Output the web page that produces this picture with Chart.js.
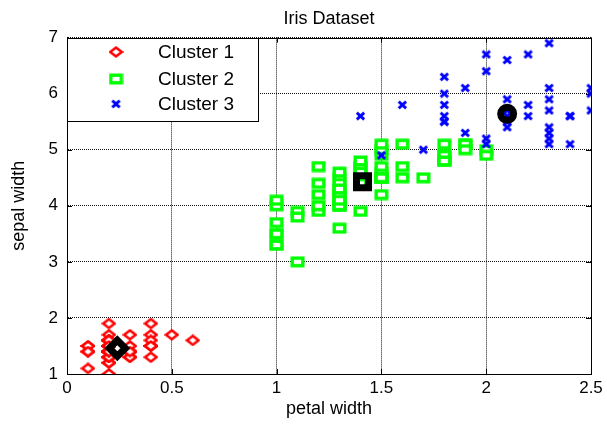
<!DOCTYPE html>
<html>
<head>
<meta charset="utf-8">
<title>Iris Dataset</title>
<script src="https://cdn.jsdelivr.net/npm/chart.js@4.4.0/dist/chart.umd.min.js"></script>
<style>
  html, body { margin: 0; padding: 0; background: #fff; }
</style>
</head>
<body>
<canvas id="iris-chart" width="607" height="429"></canvas>
<script>
// petal width (x) and length (y) per cluster
var c1Width = [0.2,0.2,0.2,0.2,0.2,0.4,0.3,0.2,0.2,0.1,
               0.2,0.2,0.1,0.1,0.2,0.4,0.4,0.3,0.3,0.3,
               0.2,0.4,0.2,0.5,0.2,0.2,0.4,0.2,0.2,0.2,
               0.2,0.4,0.1,0.2,0.2,0.2,0.2,0.1,0.2,0.2,
               0.3,0.3,0.2,0.6,0.4,0.3,0.2,0.2,0.2,0.2];
var c1Length = [1.4,1.4,1.3,1.5,1.4,1.7,1.4,1.5,1.4,1.5,
                1.5,1.6,1.4,1.1,1.2,1.5,1.3,1.4,1.7,1.5,
                1.7,1.5,1.0,1.7,1.9,1.6,1.6,1.5,1.4,1.6,
                1.6,1.5,1.5,1.4,1.5,1.2,1.3,1.4,1.3,1.5,
                1.3,1.3,1.3,1.6,1.9,1.4,1.6,1.4,1.5,1.4];

var c2Width = [1.4,1.5,1.3,1.5,1.3,1.6,1.0,1.3,1.4,1.0,
               1.5,1.0,1.4,1.3,1.4,1.5,1.0,1.5,1.1,1.8,
               1.3,1.5,1.2,1.3,1.4,1.4,1.5,1.0,1.1,1.0,
               1.2,1.6,1.5,1.6,1.5,1.3,1.3,1.3,1.2,1.4,
               1.2,1.0,1.3,1.2,1.3,1.3,1.1,1.3,
               1.9,1.7,2.0,1.5,2.0,1.8,1.8,1.8,1.5,1.8,1.9,1.9,1.8];
var c2Length = [4.7,4.5,4.0,4.6,4.5,4.7,3.3,4.6,3.9,3.5,
                4.2,4.0,4.7,3.6,4.4,4.5,4.1,4.5,3.9,4.8,
                4.0,4.9,4.7,4.3,4.4,4.8,4.5,3.5,3.8,3.7,
                3.9,5.1,4.5,4.5,4.7,4.4,4.1,4.0,4.4,4.6,
                4.0,3.3,4.2,4.2,4.2,4.3,3.0,4.1,
                5.1,4.5,5.0,5.0,4.9,4.9,4.8,4.9,5.1,4.8,5.1,5.0,5.1];

var c3Width = [1.5,1.7,
               2.5,2.1,1.8,2.2,2.1,1.8,1.8,2.5,2.0,1.9,
               2.1,2.4,2.3,1.8,2.2,2.3,2.3,2.0,2.1,1.8,
               2.1,1.6,1.9,2.0,2.2,1.4,2.3,2.4,1.8,2.1,
               2.4,2.3,2.3,2.5,2.3,2.0,2.3];
var c3Length = [4.9,5.0,
                6.0,5.9,5.6,5.8,6.6,6.3,5.8,6.1,5.1,5.3,
                5.5,5.1,5.3,5.5,6.7,6.9,5.7,6.7,5.7,6.0,
                5.6,5.8,6.1,6.4,5.6,5.6,6.1,5.6,5.5,5.4,
                5.6,5.1,5.9,5.7,5.2,5.2,5.4];

var centroidWidth = [0.24, 1.41, 2.10];
var centroidLength = [1.46, 4.43, 5.64];

var clusterNames = ["Cluster 1", "Cluster 2", "Cluster 3"];
var xTicks = [0, 0.5, 1, 1.5, 2, 2.5];
var yTicks = [1, 2, 3, 4, 5, 6, 7];

function pts(xs, ys) {
  return xs.map(function (x, i) { return {x: x, y: ys[i]}; });
}

Chart.defaults.font.family = "'Liberation Sans', Arial, sans-serif";
Chart.defaults.color = '#000';

// the original markers are a bit wider than tall, so draw them as small images
function makeMark(w, h, draw) {
  var c = document.createElement('canvas');
  c.width = w;
  c.height = h;
  draw(c.getContext('2d'), w, h);
  return c;
}

var diamondMark = makeMark(15, 12, function (g, w, h) {
  g.beginPath();
  g.moveTo(w / 2, 1.6); g.lineTo(w - 1.8, h / 2); g.lineTo(w / 2, h - 1.6); g.lineTo(1.8, h / 2);
  g.closePath();
  g.fillStyle = '#fff'; g.fill();
  g.strokeStyle = '#ff0000'; g.lineWidth = 2.5; g.stroke();
});
var squareMark = makeMark(15, 12, function (g, w, h) {
  g.fillStyle = '#fff';
  g.fillRect(2, 2, w - 4, h - 4);
  g.strokeStyle = '#00ff00'; g.lineWidth = 3.4;
  g.strokeRect(2.2, 2.2, w - 4.4, h - 4.4);
});
var crossMark = makeMark(11, 10, function (g, w, h) {
  g.beginPath();
  g.moveTo(1.8, 1.6); g.lineTo(w - 1.8, h - 1.6);
  g.moveTo(w - 1.8, 1.6); g.lineTo(1.8, h - 1.6);
  g.strokeStyle = '#0000ff'; g.lineWidth = 2.8; g.stroke();
});
var clusterMarks = [diamondMark, squareMark, crossMark];

// box, inward ticks and the legend in the top-left corner
var frame = {
  id: 'frame',
  beforeDatasetsDraw: function (chart) {
    var ctx = chart.ctx, a = chart.chartArea;
    var xs = chart.scales.x, ys = chart.scales.y;
    ctx.save();
    ctx.strokeStyle = '#000';
    ctx.lineWidth = 1;
    ctx.strokeRect(Math.round(a.left) + 0.5, Math.round(a.top) + 0.5,
                   Math.round(a.right - a.left), Math.round(a.bottom - a.top));
    ctx.beginPath();
    xTicks.forEach(function (v) {
      var px = Math.round(xs.getPixelForValue(v)) + 0.5;
      ctx.moveTo(px, a.bottom); ctx.lineTo(px, a.bottom - 5);
      ctx.moveTo(px, a.top); ctx.lineTo(px, a.top + 5);
    });
    yTicks.forEach(function (v) {
      var py = Math.round(ys.getPixelForValue(v)) + 0.5;
      ctx.moveTo(a.left, py); ctx.lineTo(a.left + 5, py);
      ctx.moveTo(a.right, py); ctx.lineTo(a.right - 5, py);
    });
    ctx.stroke();
    ctx.restore();
  },
  afterDraw: function (chart) {
    var ctx = chart.ctx, a = chart.chartArea;
    var left = Math.round(a.left) + 0.5, top = Math.round(a.top) + 0.5;
    ctx.save();
    ctx.fillStyle = '#fff';
    ctx.fillRect(left, top, 191, 83);
    ctx.strokeStyle = '#000';
    ctx.lineWidth = 1;
    ctx.strokeRect(left, top, 191, 83);
    var rows = [14, 41, 66];
    clusterNames.forEach(function (name, i) {
      var m = clusterMarks[i];
      var y = Math.round(a.top + rows[i]);
      var x = Math.round(a.left + 49);
      ctx.drawImage(m, x - m.width / 2, y - m.height / 2);
      ctx.fillStyle = '#000';
      ctx.font = "19px 'Liberation Sans', Arial, sans-serif";
      ctx.textBaseline = 'middle';
      ctx.textAlign = 'left';
      ctx.fillText(name, a.left + 91, y + 1);
    });
    ctx.restore();
  }
};

function clusterSet(i, xs, ys, order) {
  return {
    label: clusterNames[i],
    data: pts(xs, ys),
    pointStyle: clusterMarks[i],
    pointRadius: 6,
    showLine: false,
    order: order
  };
}

new Chart(document.getElementById('iris-chart'), {
  type: 'scatter',
  data: {
    datasets: [
      clusterSet(0, c1Width, c1Length, 3),
      clusterSet(1, c2Width, c2Length, 2),
      clusterSet(2, c3Width, c3Length, 1),
      {
        label: 'Centroids',
        data: pts(centroidWidth, centroidLength),
        pointStyle: ['rectRot', 'rect', 'circle'],
        pointRadius: [8, 8.5, 6.5],
        pointBorderWidth: [7, 7, 7],
        pointBackgroundColor: 'rgba(0,0,0,0)',
        pointBorderColor: '#000',
        showLine: false,
        order: 0
      }
    ]
  },
  options: {
    responsive: false,
    animation: false,
    events: [],
    layout: { padding: { left: 0, right: 16, top: 0, bottom: 0 } },
    plugins: {
      legend: { display: false },
      tooltip: { enabled: false },
      title: {
        display: true,
        text: 'Iris Dataset',
        fullSize: false,
        color: '#000',
        font: { size: 18, weight: 'normal' },
        padding: { top: 8, bottom: 8 }
      }
    },
    scales: {
      x: {
        type: 'linear',
        min: 0,
        max: 2.5,
        afterBuildTicks: function (s) { s.ticks = xTicks.map(function (v) { return {value: v}; }); },
        afterFit: function (s) { s.height = 55; s.paddingLeft = 0; s.paddingRight = 0; },
        ticks: {
          font: { size: 17 },
          padding: 4,
          maxRotation: 0,
          callback: function (v) { return String(v); }
        },
        grid: { color: '#111', drawTicks: false, lineWidth: 1 },
        border: { display: true, color: '#000', width: 1, dash: [1, 1] },
        title: {
          display: true,
          text: 'petal width',
          font: { size: 18 },
          padding: { top: 0, bottom: 9 }
        }
      },
      y: {
        type: 'linear',
        min: 1,
        max: 7,
        afterBuildTicks: function (s) { s.ticks = yTicks.map(function (v) { return {value: v}; }); },
        afterFit: function (s) { s.width = 67; s.paddingTop = 0; s.paddingBottom = 0; },
        ticks: {
          font: { size: 17 },
          padding: 9,
          callback: function (v) { return String(v); }
        },
        grid: { color: '#111', drawTicks: false, lineWidth: 1 },
        border: { display: true, color: '#000', width: 1, dash: [1, 1] },
        title: {
          display: true,
          text: 'sepal width',
          font: { size: 18 },
          padding: { top: 8, bottom: 0 }
        }
      }
    }
  },
  plugins: [frame]
});
</script>
</body>
</html>
